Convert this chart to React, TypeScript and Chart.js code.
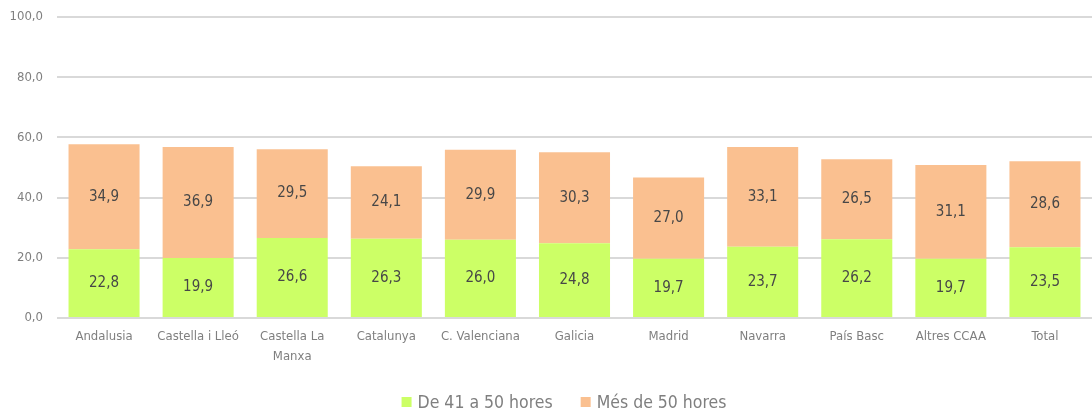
import React, { useEffect, useRef } from "react";
import { Chart, registerables } from "chart.js";

Chart.register(...registerables);

const categories: (string | string[])[] = [
  "Andalusia",
  "Castella i Lleó",
  ["Castella La", "Manxa"],
  "Catalunya",
  "C. Valenciana",
  "Galicia",
  "Madrid",
  "Navarra",
  "País Basc",
  "Altres CCAA",
  "Total",
];
const series41to50 = [22.8, 19.9, 26.6, 26.3, 26.0, 24.8, 19.7, 23.7, 26.2, 19.7, 23.5];
const seriesMore50 = [34.9, 36.9, 29.5, 24.1, 29.9, 30.3, 27.0, 33.1, 26.5, 31.1, 28.6];
const seriesNames = ["De 41 a 50 hores", "Més de 50 hores"];
const seriesColors = ["#CCFF66", "#FAC090"];
const yTicks = [0, 20, 40, 60, 80, 100];

const FONT = "'Liberation Sans Narrow', 'DejaVu Sans Condensed', sans-serif";

const fmt = (v: number) => v.toFixed(1).replace(".", ",");

const labelPlugin = {
  id: "segLabels",
  afterDatasetsDraw(chart: any) {
    const ctx = chart.ctx;
    ctx.save();
    ctx.font = `15px ${FONT}`;
    ctx.fillStyle = "#474747";
    ctx.textAlign = "center";
    ctx.textBaseline = "middle";
    chart.data.datasets.forEach((ds: any, i: number) => {
      const meta = chart.getDatasetMeta(i);
      meta.data.forEach((bar: any, j: number) => {
        const y = (bar.y + bar.base) / 2;
        ctx.fillText(fmt(ds.data[j]), bar.x, y);
      });
    });
    ctx.restore();
  },
};

const legendPlugin = {
  id: "customLegend",
  afterDraw(chart: any) {
    const ctx = chart.ctx;
    ctx.save();
    ctx.font = `17.5px ${FONT}`;
    ctx.textBaseline = "middle";
    ctx.textAlign = "left";
    const box = 10;
    const gapText = 6;
    const gapItem = 28;
    const widths = chart.data.datasets.map((ds: any) => ctx.measureText(ds.label).width);
    const total =
      widths.reduce((a: number, w: number) => a + box + gapText + w, 0) + gapItem * (widths.length - 1);
    let x = 564 - total / 2;
    const cy = 402;
    chart.data.datasets.forEach((ds: any, i: number) => {
      ctx.fillStyle = ds.backgroundColor;
      ctx.fillRect(x, cy - box / 2, box, box);
      x += box + gapText;
      ctx.fillStyle = "#7F7F7F";
      ctx.fillText(ds.label, x, cy + 1);
      x += widths[i] + gapItem;
    });
    ctx.restore();
  },
};

export default function App() {
  const ref = useRef<HTMLCanvasElement>(null);
  useEffect(() => {
    if (!ref.current) return;
    const chart = new Chart(ref.current, {
      type: "bar",
      data: {
        labels: categories,
        datasets: [
          {
            label: seriesNames[0],
            data: series41to50,
            backgroundColor: seriesColors[0],
            categoryPercentage: 1,
            barPercentage: 0.755,
          },
          {
            label: seriesNames[1],
            data: seriesMore50,
            backgroundColor: seriesColors[1],
            categoryPercentage: 1,
            barPercentage: 0.755,
          },
        ],
      },
      plugins: [labelPlugin, legendPlugin],
      options: {
        animation: false,
        responsive: false,
        layout: { padding: { top: 17, right: 0, left: 0, bottom: 0 } },
        plugins: {
          tooltip: { enabled: false },
          legend: { display: false },
        },
        scales: {
          x: {
            stacked: true,
            grid: { display: false, drawTicks: false },
            border: { display: false },
            ticks: {
              font: { family: FONT, size: 13, lineHeight: 1.5 },
              color: "#7F7F7F",
              padding: 9,
              maxRotation: 0,
              autoSkip: false,
            },
            afterFit: (s: any) => {
              s.height = 98;
            },
          },
          y: {
            stacked: true,
            min: 0,
            max: 100,
            afterBuildTicks: (s: any) => {
              s.ticks = yTicks.map((v) => ({ value: v }));
            },
            grid: { color: "#D9D9D9", lineWidth: 2, drawTicks: false },
            border: { display: false },
            ticks: {
              font: { family: FONT, size: 13 },
              color: "#7F7F7F",
              padding: 14,
              callback: (v: any) => fmt(Number(v)),
            },
            afterFit: (s: any) => {
              s.width = 57;
              s.paddingTop = 0;
              s.paddingBottom = 0;
            },
          },
        },
      },
    });
    return () => chart.destroy();
  }, []);
  return (
    <div style={{ position: "absolute", left: 0, top: 0, width: 1092, height: 416, background: "#fff" }}>
      <canvas ref={ref} width={1092} height={416} />
    </div>
  );
}
